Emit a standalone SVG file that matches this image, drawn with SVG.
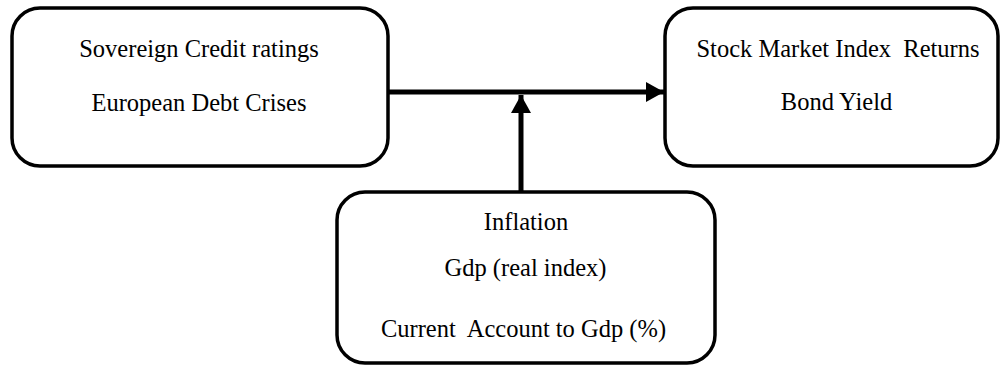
<svg xmlns="http://www.w3.org/2000/svg" width="1001" height="366" viewBox="0 0 1001 366">
<style>
.box{fill:#fff;stroke:#000;stroke-width:3.5}
.t{font-family:"Liberation Serif","Times New Roman",serif;font-size:24.5px;fill:#000;text-anchor:middle;white-space:pre}
.conn{stroke:#000;stroke-width:5;fill:none}
</style>
<defs>
<marker id="ah" markerUnits="userSpaceOnUse" markerWidth="18" markerHeight="20" refX="18" refY="10" orient="auto" viewBox="0 0 18 20">
<path d="M0,0 L18,10 L0,20 Z" fill="#000"/>
</marker>
</defs>
<g id="node-left">
<rect class="box" x="12" y="8" width="376" height="158" rx="28" ry="28"/>
<text class="t" x="199" y="57">Sovereign Credit ratings</text>
<text class="t" x="199" y="111">European Debt Crises</text>
</g>
<g id="node-right">
<rect class="box" x="665" y="8" width="333" height="158" rx="28" ry="28"/>
<text class="t" x="838" y="57" xml:space="preserve">Stock Market Index  Returns</text>
<text class="t" x="836.5" y="110">Bond Yield</text>
</g>
<g id="node-bottom">
<rect class="box" x="337" y="192" width="378" height="171" rx="28" ry="28"/>
<text class="t" x="526" y="230">Inflation</text>
<text class="t" x="525.5" y="276">Gdp (real index)</text>
<text class="t" x="523.5" y="337" xml:space="preserve">Current  Account to Gdp (%)</text>
</g>
<g id="connectors">
<line class="conn" x1="388" y1="92" x2="664" y2="92" marker-end="url(#ah)"/>
<line class="conn" x1="521" y1="192" x2="521" y2="95" marker-end="url(#ah)"/>
</g>
</svg>
